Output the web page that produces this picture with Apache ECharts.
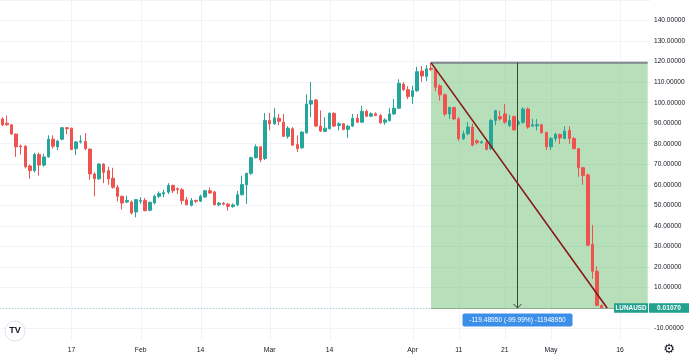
<!DOCTYPE html>
<html><head><meta charset="utf-8">
<script src="https://cdn.jsdelivr.net/npm/echarts@6/dist/echarts.min.js"></script>
<style>html,body{margin:0;padding:0;background:#fff}#c{width:690px;height:358px}</style>
</head><body><div id="c"></div>
<script>
// ---- data ----
const categories = [
'01-02','01-03','01-04','01-05','01-06','01-07','01-08','01-09','01-10','01-11','01-12','01-13','01-14','01-15','01-16','01-17','01-18','01-19','01-20','01-21','01-22','01-23','01-24','01-25','01-26','01-27','01-28','01-29','01-30','01-31',
'02-01','02-02','02-03','02-04','02-05','02-06','02-07','02-08','02-09','02-10','02-11','02-12','02-13','02-14','02-15','02-16','02-17','02-18','02-19','02-20','02-21','02-22','02-23','02-24','02-25','02-26','02-27','02-28',
'03-01','03-02','03-03','03-04','03-05','03-06','03-07','03-08','03-09','03-10','03-11','03-12','03-13','03-14','03-15','03-16','03-17','03-18','03-19','03-20','03-21','03-22','03-23','03-24','03-25','03-26','03-27','03-28','03-29','03-30','03-31',
'04-01','04-02','04-03','04-04','04-05','04-06','04-07','04-08','04-09','04-10','04-11','04-12','04-13','04-14','04-15','04-16','04-17','04-18','04-19','04-20','04-21','04-22','04-23','04-24','04-25','04-26','04-27','04-28','04-29','04-30',
'05-01','05-02','05-03','05-04','05-05','05-06','05-07','05-08','05-09','05-10','05-11','05-12','05-13','05-14','05-15','05-16','05-17','05-18','05-19','05-20','05-21','05-22'];

const openP = [92.1,90.0,89.2,84.7,78.9,78.8,69.2,66.9,74.7,69.6,73.6,82.2,78.5,82.2,87.8,87.6,77.6,80.9,81.1,77.4,65.3,62.9,70.1,66.9,63.2,58.8,54.4,51.6,51.6,46.8,
52.0,52.4,47.6,51.2,54.4,55.6,56.4,59.7,58.1,57.6,52.7,50.0,52.4,52.0,54.1,57.1,56.5,50.3,51.1,50.6,49.4,50.3,55.2,60.0,65.6,73.2,78.5,72.8,
91.3,89.7,92.4,90.5,83.6,87.3,79.6,78.0,85.3,99.3,101.3,88.6,86.0,87.3,94.8,88.9,89.7,87.0,88.6,92.4,90.5,95.8,93.4,94.6,93.7,90.5,91.3,94.5,97.3,109.0,106.3,
103.0,105.8,115.4,112.8,116.7,116.2,108.2,103.8,94.5,97.7,92.1,82.5,84.9,88.1,81.4,80.5,80.5,77.6,91.3,93.2,94.5,88.9,93.2,89.7,90.5,96.9,88.6,88.7,89.2,85.4,
78.5,82.5,84.5,82.5,86.5,82.5,77.6,68.3,64.8,31.0,17.9,1.3];
const closeP = [89.2,89.2,84.7,78.5,78.5,68.8,66.9,74.7,69.6,73.6,82.2,78.8,81.3,87.8,87.3,77.2,80.9,81.3,77.6,65.3,62.9,70.1,66.1,62.9,58.8,54.4,51.1,52.4,46.3,52.8,
52.4,47.4,51.5,54.4,55.8,56.2,59.7,57.1,57.7,52.3,50.3,52.3,52.0,54.4,57.1,56.0,50.3,51.1,50.6,49.5,50.2,55.2,60.1,65.6,73.2,78.5,72.2,91.3,
89.7,92.6,90.9,83.6,87.6,79.3,77.6,85.7,99.3,101.0,88.6,86.2,87.6,94.8,88.6,89.7,87.0,88.5,92.4,90.5,95.8,93.4,94.6,93.7,90.2,91.6,94.5,97.3,109.4,106.3,103.0,
105.8,115.1,113.0,116.5,116.2,107.5,103.8,94.5,97.7,92.1,82.5,84.8,88.1,79.3,80.5,81.0,77.3,91.3,96.1,92.1,90.5,91.3,86.8,90.5,96.9,88.1,89.2,89.3,85.4,78.5,
82.5,84.6,82.8,86.1,82.5,77.6,68.3,64.5,30.6,17.9,1.3,0.0107];
const lowP = [88.6,88.8,84.4,73.6,74.7,68.0,62.9,66.1,64.5,68.8,73.2,77.6,76.9,81.7,84.6,76.9,74.5,80.1,76.9,62.4,54.4,62.4,60.8,60.0,58.1,52.0,48.0,51.1,45.5,44.2,
50.7,47.1,47.1,50.4,53.6,53.9,55.5,56.0,55.5,50.4,50.0,49.5,51.1,51.6,53.6,55.5,50.0,49.5,50.0,47.4,48.8,49.6,54.8,50.7,64.8,72.8,71.0,72.0,
86.5,89.2,89.0,83.3,82.5,79.0,76.0,77.6,84.9,92.9,88.1,85.7,85.7,87.0,88.1,86.5,86.5,82.8,88.1,90.2,90.2,93.0,93.0,93.4,89.7,89.2,90.8,94.0,97.0,105.8,101.7,
99.3,105.3,110.1,110.5,115.5,105.5,101.0,93.4,92.1,91.5,81.4,81.8,84.1,78.8,79.6,80.0,76.8,76.8,89.0,91.3,89.7,88.1,86.4,88.9,89.7,87.3,88.1,86.5,84.9,76.9,
76.9,81.0,79.9,82.2,79.9,77.3,63.9,60.0,30.2,14.2,0.8,0.01];
const highP = [92.9,93.7,89.5,85.0,79.6,79.3,69.9,75.6,75.7,75.2,84.1,84.1,81.9,88.1,87.9,87.8,81.3,84.1,85.2,77.6,66.1,70.5,70.5,68.8,68.3,60.0,54.7,54.7,52.4,53.1,
54.0,53.6,51.8,55.2,56.8,57.6,60.8,60.0,58.7,58.4,54.0,53.6,52.8,55.2,57.6,58.7,57.1,51.6,51.6,51.1,51.0,57.0,64.4,65.8,73.7,79.6,78.6,95.0,
95.0,97.3,94.5,94.5,88.6,88.1,84.1,86.0,104.1,110.1,101.8,96.2,92.9,95.3,95.3,90.5,90.0,89.2,94.5,94.5,98.5,96.6,95.3,95.3,94.5,92.4,97.3,101.8,111.4,110.0,108.0,
108.3,117.5,117.8,118.3,119.5,117.0,109.0,104.5,98.0,98.0,93.0,86.4,90.5,89.7,82.2,81.4,81.4,92.1,96.5,96.1,99.3,94.1,93.7,91.3,97.7,97.7,92.1,92.0,89.7,86.0,
83.3,85.4,85.0,88.5,88.5,83.3,77.9,68.8,65.6,40.5,20.4,1.6];

const tickDates = ['01-17','02-01','02-14','03-01','03-14','04-01','04-11','04-21','05-01','05-16'];
const tickText  = ['17','Feb','14','Mar','14','Apr','11','21','May','16'];

const symbolName = 'LUNAUSD';
const lastPrice = 0.0107;
const rangeStartDate = '04-05';
const rangeEndDate = '05-22';
const rangeHigh = 119.5;
const rangeLow = 0.0107;
const arrowDayOffset = 18.7;      // days after range start
const trendEndDayOffset = 38.2;   // days after range start
const rangeLabel = '-119.48950 (-99.99%) -11948950';

// ---- chart ----
const FONT = 'Liberation Sans';
const ohlc = openP.map((o, i) => [o, closeP[i], lowP[i], highP[i]]);
const iStart = categories.indexOf(rangeStartDate);
const iEnd = categories.indexOf(rangeEndDate);
const iArrow = iStart + arrowDayOffset;
const iTrendEnd = iStart + trendEndDayOffset;
const crisp = v => Math.round(v) + 0.5;

function renderBack(params, api) {
  if (params.dataIndex !== 0) return null;
  const ch = [];
  const yTop = api.coord([0, 150])[1], yBot = api.coord([0, -15.6])[1];
  tickDates.forEach(d => {
    const x = crisp(api.coord([categories.indexOf(d), 0])[0]);
    ch.push({type: 'line', shape: {x1: x, y1: yTop, x2: x, y2: yBot}, style: {stroke: '#f0f3fa', lineWidth: 1}});
  });
  const p1 = api.coord([iStart, rangeHigh]), p2 = api.coord([iEnd, rangeLow]);
  ch.push({type: 'rect', shape: {x: p1[0], y: p1[1], width: p2[0] - p1[0], height: p2[1] - p1[1]}, style: {fill: 'rgba(76,175,80,0.4)'}});
  const yl = crisp(api.coord([0, lastPrice])[1]);
  ch.push({type: 'line', shape: {x1: 0, y1: yl, x2: p1[0], y2: yl}, style: {stroke: 'rgba(38,166,154,0.45)', lineWidth: 1, lineDash: [1, 2]}});
  return {type: 'group', children: ch};
}

function renderFront(params, api) {
  if (params.dataIndex !== 0) return null;
  const ch = [];
  const p1 = api.coord([iStart, rangeHigh]), p2 = api.coord([iEnd, rangeLow]);
  ch.push({type: 'line', shape: {x1: p1[0], y1: p1[1], x2: p2[0], y2: p1[1]}, style: {stroke: '#80868b', lineWidth: 2}});
  ch.push({type: 'line', shape: {x1: p1[0], y1: crisp(p2[1]), x2: p2[0], y2: crisp(p2[1])}, style: {stroke: '#8fa88f', lineWidth: 1}});
  const ax = crisp(api.coord([iArrow, 0])[0]);
  const ay1 = api.coord([0, rangeHigh])[1], ay2 = api.coord([0, rangeLow])[1];
  ch.push({type: 'line', shape: {x1: ax, y1: ay1, x2: ax, y2: ay2}, style: {stroke: '#2f4a33', lineWidth: 1}});
  ch.push({type: 'polyline', shape: {points: [[ax - 4, ay2 - 4], [ax, ay2], [ax + 4, ay2 - 4]]}, style: {stroke: '#2f4a33', lineWidth: 1, fill: null}});
  const t1 = api.coord([iStart, rangeHigh]), t2 = api.coord([iTrendEnd, rangeLow]);
  ch.push({type: 'line', shape: {x1: t1[0], y1: t1[1], x2: t2[0], y2: t2[1]}, style: {stroke: '#861818', lineWidth: 1.6}});
  const bw = 110, bh = 13;
  ch.push({type: 'rect', shape: {x: ax - bw / 2, y: ay2 + 5.5, width: bw, height: bh, r: 2}, style: {fill: '#3b8fe8'}});
  ch.push({type: 'text', style: {x: ax, y: ay2 + 5.5 + bh / 2, text: rangeLabel, fill: '#fff', font: '6.6px "' + FONT + '"', align: 'center', verticalAlign: 'middle'}});
  const yl = api.coord([0, lastPrice])[1];
  const gridRight = api.coord([iEnd + 0.5, 0])[0];
  ch.push({type: 'rect', shape: {x: gridRight - 36, y: yl - 4.8, width: 34, height: 9.6}, style: {fill: '#22a08e'}});
  ch.push({type: 'text', style: {x: gridRight - 19, y: yl, text: symbolName, fill: '#fff', font: 'bold 6.4px "' + FONT + '"', align: 'center', verticalAlign: 'middle'}});
  ch.push({type: 'rect', shape: {x: gridRight - 1, y: yl - 4.8, width: 40, height: 9.6}, style: {fill: '#22a08e'}});
  ch.push({type: 'text', style: {x: gridRight + 19, y: yl, text: lastPrice.toFixed(5), fill: '#fff', font: 'bold 6.6px "' + FONT + '"', align: 'center', verticalAlign: 'middle'}});
  return {type: 'group', children: ch};
}

const chart = echarts.init(document.getElementById('c'), null, {renderer: 'canvas'});
chart.setOption({
  animation: false,
  backgroundColor: '#ffffff',
  grid: {left: 0, top: -3.45, width: 650, height: 332, containLabel: false},
  xAxis: [{
    type: 'category', data: categories, boundaryGap: true,
    axisLine: {show: false}, axisTick: {show: false}, splitLine: {show: false},
    axisLabel: {
      interval: (idx, val) => tickDates.indexOf(val) >= 0,
      formatter: val => tickText[tickDates.indexOf(val)],
      margin: 18, color: '#131722', fontSize: 6.8, fontFamily: FONT
    }
  }, {
    type: 'value', min: -0.5, max: categories.length - 0.5, show: false
  }],
  yAxis: {
    type: 'value', position: 'right', min: -10, max: 150, interval: 10, scale: false,
    axisLine: {show: false}, axisTick: {show: false},
    splitLine: {show: true, lineStyle: {color: '#f0f3fa', width: 1}},
    axisLabel: {showMaxLabel: false, margin: 4, color: '#131722', fontSize: 6.6, fontFamily: FONT,
      formatter: v => v.toFixed(5)}
  },
  series: [{
    type: 'custom', xAxisIndex: 1, yAxisIndex: 0, z: 1, clip: false, silent: true,
    renderItem: renderBack, data: [[0, 0]]
  }, {
    type: 'candlestick', xAxisIndex: 0, yAxisIndex: 0, z: 3, barWidth: 3,
    data: ohlc,
    itemStyle: {color: '#26a69a', color0: '#ef5350', borderColor: '#26a69a', borderColor0: '#ef5350', borderWidth: 1}
  }, {
    type: 'custom', xAxisIndex: 1, yAxisIndex: 0, z: 10, clip: false, silent: true,
    renderItem: renderFront, data: [[0, 0]]
  }],
  graphic: [
    {type: 'circle', shape: {cx: 15, cy: 331, r: 10}, style: {fill: '#fff', stroke: '#e0e3eb', lineWidth: 1}, z: 20},
    {type: 'text', x: 15, y: 331, style: {text: 'TV', fill: '#131722', font: 'bold 9px "' + FONT + '"', align: 'center', verticalAlign: 'middle'}, z: 21},
    {type: 'text', x: 669, y: 350, style: {text: '\u2699', fill: '#131722', font: '13px "DejaVu Sans"', align: 'center', verticalAlign: 'middle'}, z: 21}
  ]
});
</script></body></html>
